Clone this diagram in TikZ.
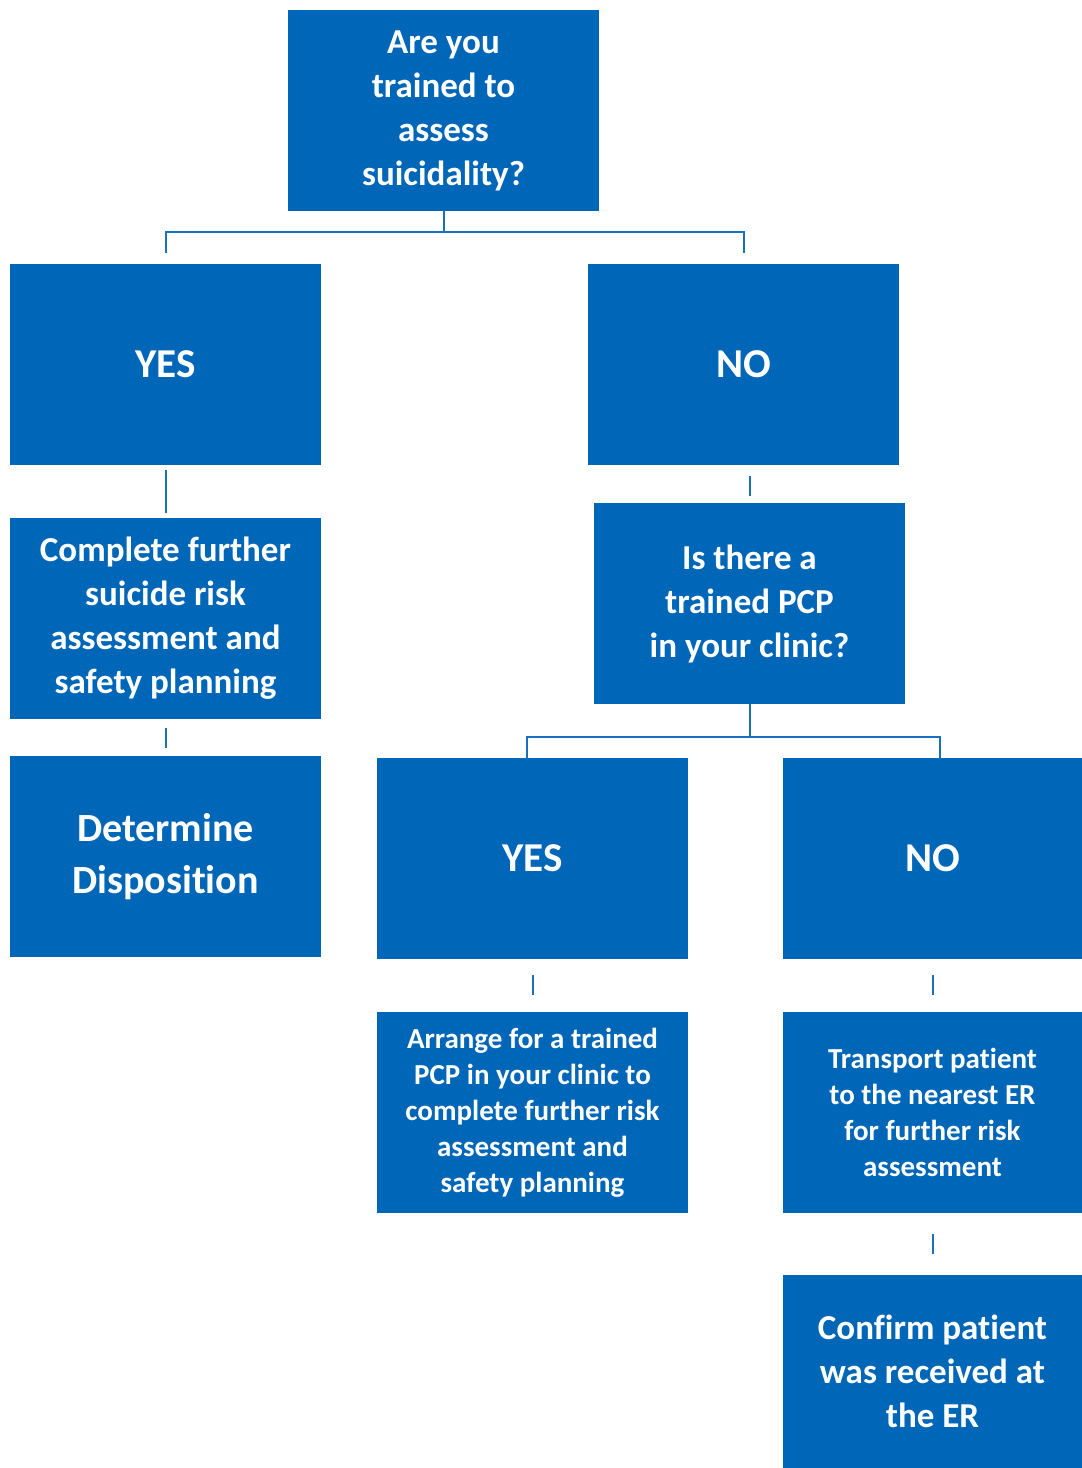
\documentclass[tikz,border=0pt]{standalone}
\usepackage{fontspec}
\setmainfont{Carlito}[Ligatures=NoCommon]
\definecolor{boxblue}{HTML}{0066B8}
\definecolor{lineblue}{HTML}{1A6FBF}
\tikzset{
	box/.style={fill=boxblue,text=white,align=center,inner sep=0pt,
		minimum width=311pt,minimum height=201pt,font=\bfseries\fontsize{35}{44}\selectfont},
	narrowbox/.style={box,minimum width=299pt},
	answer/.style={font=\bfseries\fontsize{41}{44}\selectfont},
	small/.style={font=\bfseries\fontsize{29}{36}\selectfont},
	link/.style={draw=lineblue,line width=2pt}
}
\begin{document}
\begin{tikzpicture}[x=1pt,y=-1pt]
	\useasboundingbox (0,0) rectangle (1082,1468);
	% first question and its answers
	\node[box] (ask) at (443.5,110.5) {Are you\\trained to\\assess\\suicidality?};
	\node[box,answer] (yes) at (165.5,364.5) {YES};
	\node[box,answer] (no) at (743.5,364.5) {NO};
	% left branch
	\node[box] (complete) at (165.5,618.5) {Complete further\\suicide risk\\assessment and\\safety planning};
	\node[box,font=\bfseries\fontsize{40}{52}\selectfont] (dispo) at (165.5,856.5) {Determine\\Disposition};
	% right branch
	\node[box] (pcp) at (749.5,603.5) {Is there a\\trained PCP\\in your clinic?};
	\node[box,answer] (yes2) at (532.5,858.5) {YES};
	\node[narrowbox,answer] (no2) at (932.5,858.5) {NO};
	\node[box,small] (arrange) at (532.5,1112.5) {Arrange for a trained\\PCP in your clinic to\\complete further risk\\assessment and\\safety planning};
	\node[narrowbox,small] (transport) at (932.5,1112.5) {Transport patient\\to the nearest ER\\for further risk\\assessment};
	\node[narrowbox,minimum height=193pt] (confirm) at (932.5,1371.5) {Confirm patient\\was received at\\the ER};
	% connectors
	\draw[link] (ask.south) -- ++(0,21) coordinate (split1);
	\draw[link] ([yshift=11pt]yes.north) |- (split1) -| ([yshift=11pt]no.north);
	\draw[link] ([yshift=-5pt]yes.south) -- ([yshift=5pt]complete.north);
	\draw[link] ([yshift=-9pt]complete.south) -- ([yshift=8pt]dispo.north);
	\draw[link] ([yshift=7pt]pcp.north) -- ++(0,-20);
	\draw[link] (pcp.south) -- ++(0,33) coordinate (split2);
	\draw[link] ([xshift=-5.5pt]yes2.north) |- (split2) -| ([xshift=7.5pt]no2.north);
	\draw[link] ([yshift=-16pt]yes2.south) -- ([yshift=17pt]arrange.north);
	\draw[link] ([yshift=-16pt]no2.south) -- ([yshift=17pt]transport.north);
	\draw[link] ([yshift=-21pt]transport.south) -- ([yshift=21pt]confirm.north);
\end{tikzpicture}
\end{document}
